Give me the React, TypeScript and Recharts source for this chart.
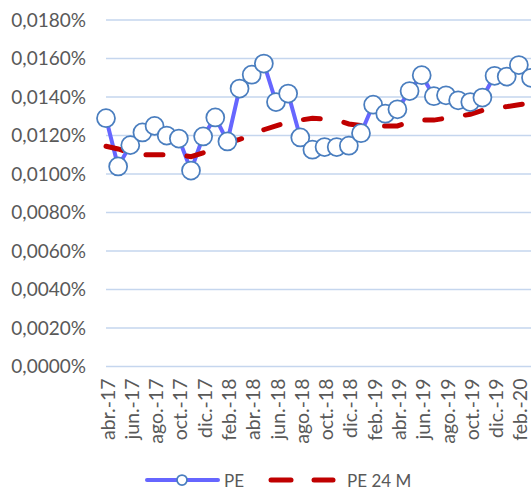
import { LineChart, Line, XAxis, YAxis, CartesianGrid, Legend } from 'recharts'

const months = [
  'abr.-17', 'may.-17', 'jun.-17', 'jul.-17', 'ago.-17', 'sep.-17', 'oct.-17', 'nov.-17', 'dic.-17',
  'ene.-18', 'feb.-18', 'mar.-18', 'abr.-18', 'may.-18', 'jun.-18', 'jul.-18', 'ago.-18', 'sep.-18',
  'oct.-18', 'nov.-18', 'dic.-18', 'ene.-19', 'feb.-19', 'mar.-19', 'abr.-19', 'may.-19', 'jun.-19',
  'jul.-19', 'ago.-19', 'sep.-19', 'oct.-19', 'nov.-19', 'dic.-19', 'ene.-20', 'feb.-20', 'mar.-20',
]

// values in %
const pe = [
  0.0129, 0.01039, 0.0115, 0.01216, 0.0125, 0.012, 0.01184, 0.01018, 0.01195,
  0.01294, 0.01169, 0.01444, 0.01516, 0.01574, 0.01374, 0.01418, 0.0119, 0.01126,
  0.0114, 0.0114, 0.01147, 0.01212, 0.0136, 0.01313, 0.01336, 0.01431, 0.01513,
  0.01404, 0.01409, 0.01383, 0.01374, 0.01397, 0.0151, 0.01506, 0.01566, 0.015,
]

const pe24m = [
  0.01144, 0.0113, 0.0111, 0.011, 0.011, 0.011, 0.011, 0.0109, 0.0111,
  0.0113, 0.0116, 0.0118, 0.012, 0.0123, 0.0125, 0.0127, 0.0128, 0.0129,
  0.01285, 0.0128, 0.0126, 0.01252, 0.0125, 0.0125, 0.0125, 0.0127, 0.0128,
  0.0128, 0.0129, 0.013, 0.0131, 0.0133, 0.0134, 0.0135, 0.0136, 0.0137,
]

const yTicks = [0, 0.002, 0.004, 0.006, 0.008, 0.01, 0.012, 0.014, 0.016, 0.018]

const data = months.map((m, i) => ({ month: m, PE: pe[i], 'PE 24 M': pe24m[i] }))

const FONT = 'Lato, "Open Sans", sans-serif'
const TEXT = '#595959'
const BLUE = '#6666ff'
const MARK = '#4a7ebf'
const RED = '#c00000'

const fmt = (v: number) => v.toFixed(4).replace('.', ',') + '%'

function MonthTick({ x, y, payload }: any) {
  return (
    <text x={x + 1} y={y} transform={`rotate(-90, ${x + 1}, ${y})`} textAnchor="end" dominantBaseline="central"
      fill={TEXT} fontSize={19.5} fontFamily={FONT}>
      {payload.value}
    </text>
  )
}

function ChartLegend() {
  return (
    <svg width={531} height={24} style={{ overflow: 'visible', display: 'block' }}>
      <line x1={147} x2={218} y1={14} y2={14} stroke={BLUE} strokeWidth={4} strokeLinecap="round" />
      <circle cx={182} cy={14} r={5} fill="#fff" stroke={MARK} strokeWidth={1.75} />
      <text x={224} y={14} dominantBaseline="central" fill={TEXT} fontSize={17} fontFamily={FONT}>PE</text>
      <line x1={271} x2={291} y1={14} y2={14} stroke={RED} strokeWidth={5} strokeLinecap="round" />
      <line x1={314} x2={333} y1={14} y2={14} stroke={RED} strokeWidth={5} strokeLinecap="round" />
      <text x={347} y={14} dominantBaseline="central" fill={TEXT} fontSize={17} fontFamily={FONT}>PE 24 M</text>
    </svg>
  )
}

export default function App() {
  return (
    <div style={{ position: 'absolute', left: 0, top: 0, width: 531, height: 490, overflow: 'hidden', background: '#fff' }}>
      <LineChart width={531} height={490} data={data} margin={{ top: 20, right: 0, bottom: 0, left: 0 }}>
        <CartesianGrid vertical={false} stroke="#c5d6ee" strokeWidth={1.3} />
        <XAxis dataKey="month" interval={1} height={99.5} axisLine={false} tickLine={false} tickSize={6}
          tickMargin={6} tick={<MonthTick />} />
        <YAxis width={106} domain={[0, 0.018]} ticks={yTicks} tickFormatter={fmt} axisLine={false} tickLine={false}
          tickSize={6} tickMargin={14} tick={{ fill: TEXT, fontSize: 19, fontFamily: FONT }} />
        <Legend verticalAlign="bottom" height={24} width={531} content={() => <ChartLegend />} />
        <Line dataKey="PE" stroke={BLUE} strokeWidth={4} isAnimationActive={false}
          dot={{ r: 9, fill: '#fff', stroke: MARK, strokeWidth: 1.75 }} />
        <Line dataKey="PE 24 M" stroke={RED} strokeWidth={5} strokeDasharray="17 24" strokeLinecap="round"
          dot={false} isAnimationActive={false} />
      </LineChart>
    </div>
  )
}
